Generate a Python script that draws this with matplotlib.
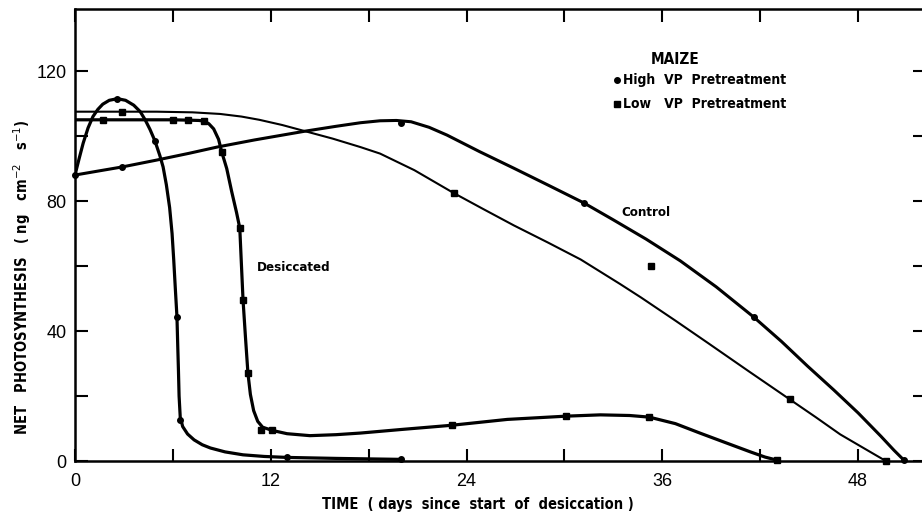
import matplotlib
matplotlib.use("Agg")
import matplotlib.pyplot as plt

# measured points (days, ng cm-2 s-1)
high_ctrl_x = [0, 2.9, 20.0, 31.2, 41.6, 50.8]
high_ctrl_y = [88, 90.5, 104, 79.4, 44.3, 0.3]
low_ctrl_x = [2.9, 23.2, 35.3, 43.8, 49.7]
low_ctrl_y = [107.5, 82.5, 60, 19, 0]
high_desc_x = [2.6, 4.9, 6.25, 6.45, 13.0, 20.0]
high_desc_y = [111.4, 98.5, 44.3, 12.6, 1.2, 0.5]
low_desc_x = [1.7, 6.0, 6.9, 7.9, 9.0, 10.1, 10.3, 10.6, 11.4, 12.1, 23.1, 30.1, 35.2, 43.0]
low_desc_y = [105, 105, 104.8, 104.6, 95, 71.7, 49.5, 27, 9.5, 9.5, 11, 13.8, 13.5, 0.3]

# hand-drawn fitted curves
high_ctrl_cx = [0, 1.5, 2.9, 5, 7, 8.7, 11, 14.1, 16, 17.5, 18.7, 19.7, 20.6, 21.7, 22.8,
                24.8, 26.9, 29, 31.2, 33, 35, 37.1, 39.3, 41.6, 43.3, 44.9, 46.5, 48,
                49.4, 50.2, 50.8]
high_ctrl_cy = [88, 89.3, 90.5, 92.6, 94.7, 96.6, 98.8, 101.5, 103, 104.1, 104.7, 104.8,
                104.4, 102.7, 100.3, 95.2, 90.1, 84.9, 79.4, 74.2, 68.3, 61.6, 53.6, 44.3,
                36.8, 29.2, 21.9, 14.8, 7.6, 3.3, 0.3]
low_ctrl_cx = [0, 2.9, 5, 7.2, 8.9, 10.2, 11.3, 12.7, 14.1, 15.8, 17.5, 18.7, 20.8, 23.2,
               25, 26.9, 29, 31, 33.4, 34.7, 36.8, 38.8, 41.3, 43.8, 45.4, 46.9, 48.4, 49.7]
low_ctrl_cy = [107.5, 107.5, 107.5, 107.3, 106.8, 106, 105, 103.4, 101.5, 99.2, 96.6, 94.6,
               89.5, 82.5, 77.6, 72.5, 67.2, 62, 54.5, 50.3, 43.2, 36.3, 27.6, 19, 13.5,
               8.2, 3.8, 0]
high_desc_cx = [0, 0.25, 0.5, 0.8, 1.1, 1.4, 1.7, 2.1, 2.6, 3.1, 3.6, 4.0, 4.3, 4.6, 4.9,
                5.2, 5.4, 5.6, 5.8, 5.95, 6.05, 6.15, 6.25, 6.3, 6.34, 6.38, 6.45, 6.6,
                6.9, 7.3, 7.8, 8.3, 9.2, 10.3, 11.6, 13, 16, 20]
high_desc_cy = [88, 93, 97.8, 102.5, 106, 108.2, 109.8, 111, 111.5, 111, 109.5, 107.5, 105,
                102, 98.5, 94, 90.5, 85, 78, 70, 62, 53, 44.3, 35, 28, 20, 13.5, 10.6,
                8.3, 6.5, 5, 4, 2.8, 1.9, 1.4, 1.1, 0.8, 0.5]
low_desc_cx = [0, 1.7, 6.0, 6.9, 7.6, 7.9, 8.2, 8.5, 8.8, 9.0, 9.3, 9.6, 9.9, 10.1, 10.2,
               10.3, 10.45, 10.6, 10.75, 10.95, 11.2, 11.5, 12.1, 13, 14.4, 16, 17.5, 20,
               23.1, 26.5, 30.1, 32.2, 34, 35.2, 36.8, 38.3, 39.9, 41.4, 42.3, 43]
low_desc_cy = [105, 105, 105, 104.9, 104.8, 104.6, 103.8, 102.2, 99, 95, 90, 83, 76.5, 71.7,
               60.5, 49.5, 38, 27, 20.5, 15.5, 12.2, 10.4, 9.4, 8.4, 7.8, 8.1, 8.6, 9.7,
               11, 12.8, 13.8, 14.2, 14, 13.5, 11.5, 8.6, 5.6, 2.8, 1.2, 0.3]

x_ticks = [0, 6, 12, 18, 24, 30, 36, 42, 48]
x_labels = ["0", "", "12", "", "24", "", "36", "", "48"]
y_ticks = [0, 20, 40, 60, 80, 100, 120]
y_labels = ["0", "", "40", "", "80", "", "120"]

lab = dict(fontweight="bold", family="DejaVu Sans", fontstretch="condensed")

fig = plt.figure(figsize=(9.22, 5.15), dpi=100)
ax = fig.add_axes([75 / 922, 54 / 515, 850 / 922, 452 / 515])

line = dict(color="black", solid_capstyle="round", solid_joinstyle="round")
ax.plot(high_ctrl_cx, high_ctrl_cy, lw=2.2, **line)
ax.plot(low_ctrl_cx, low_ctrl_cy, lw=1.5, **line)
ax.plot(high_desc_cx, high_desc_cy, lw=2.3, **line)
ax.plot(low_desc_cx, low_desc_cy, lw=2.3, **line)

ax.plot(high_ctrl_x, high_ctrl_y, "o", color="black", ms=4, clip_on=False)
ax.plot(high_desc_x, high_desc_y, "o", color="black", ms=4, clip_on=False)
ax.plot(low_ctrl_x, low_ctrl_y, "s", color="black", ms=4, clip_on=False)
ax.plot(low_desc_x, low_desc_y, "s", color="black", ms=4, clip_on=False)

ax.set_xlim(0, 52.1)
ax.set_ylim(0, 139.1)
ax.set_xticks(x_ticks)
ax.set_xticklabels(x_labels, fontsize=13, family="Liberation Sans")
ax.set_yticks(y_ticks)
ax.set_yticklabels(y_labels, fontsize=13, family="Liberation Sans")
ax.tick_params(direction="in", length=9, width=1.5, top=True, right=True)
ax.tick_params(axis="x", pad=9)
ax.tick_params(axis="y", pad=6)
for s in ax.spines.values():
    s.set_linewidth(1.8)

ax.text(24.7, -13.5, "TIME  ( days  since  start  of  desiccation )", ha="center",
        va="center", fontsize=10.5, **lab)
fig.text(22 / 922, 1 - 277 / 515,
         r"NET   PHOTOSYNTHESIS   ( ng   cm$^{-2}$   s$^{-1}$)", rotation=90,
         ha="center", va="center", fontsize=10.5, **lab)

ax.text(35.0, 76.6, "Control", ha="center", va="center", fontsize=9.5, **lab)
ax.text(13.4, 59.4, "Desiccated", ha="center", va="center", fontsize=9.5, **lab)

# legend block
ax.text(35.3, 123.6, "MAIZE", va="center", fontsize=11, **lab)
ax.plot([33.2], [117.3], "o", color="black", ms=4)
ax.text(33.6, 117.3, "High  VP  Pretreatment", va="center", fontsize=10, **lab)
ax.plot([33.2], [109.8], "s", color="black", ms=4)
ax.text(33.6, 109.8, "Low   VP  Pretreatment", va="center", fontsize=10, **lab)

fig.savefig("out.png", dpi=100)
